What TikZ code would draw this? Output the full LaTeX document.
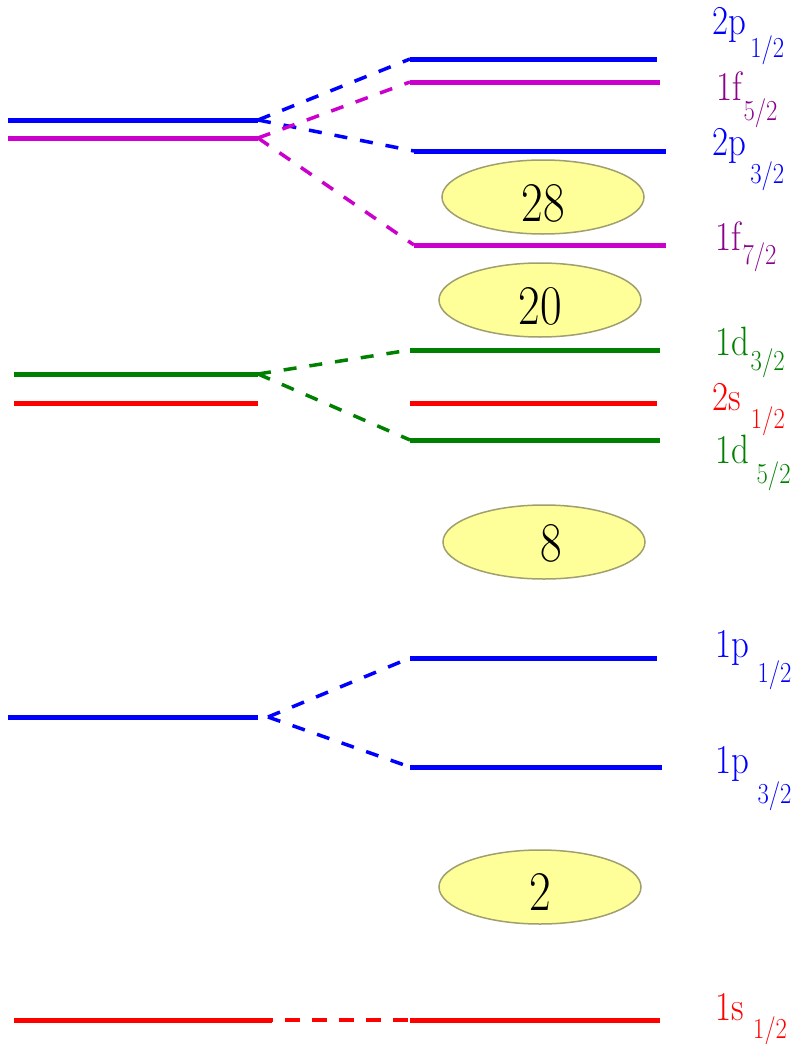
\documentclass[tikz,border=0pt]{standalone}
\usetikzlibrary{shapes.geometric}
\definecolor{cblue}{RGB}{0,0,255}
\definecolor{cmag}{RGB}{204,0,204}
\definecolor{cpurp}{RGB}{140,0,140}
\definecolor{cgreen}{RGB}{0,128,0}
\definecolor{cred}{RGB}{255,0,0}
\definecolor{cfill}{RGB}{255,255,153}
\definecolor{cedge}{RGB}{160,160,110}
\newcommand\lvlab[4]{\scalebox{0.85}[1]{\rmfamily\fontsize{41}{41}\selectfont #1\hspace{#4pt}\raisebox{-#3pt}{\fontsize{29}{29}\selectfont #2}}}
\newcommand\magic[1]{\scalebox{0.84}[1]{\rmfamily\fontsize{56}{56}\selectfont #1}}
\tikzset{
  level/.style={line width=5pt},
  split/.style={line width=3.5pt, dash pattern=on 13pt off 13pt},
  lab/.style={anchor=base west, inner sep=0pt},
  shell/.style={ellipse, draw=cedge, line width=1.5pt, fill=cfill, minimum width=202pt, minimum height=74pt, inner sep=0pt, text height=48pt, text depth=0pt}
}
\begin{document}
\begin{tikzpicture}[x=1pt,y=-1pt]
\useasboundingbox (0,0) rectangle (794,1044);
% left levels
\coordinate (a1) at (8,120);   \coordinate (a2) at (258,120);
\coordinate (b1) at (8,138);   \coordinate (b2) at (258,138);
\coordinate (c1) at (14,374);  \coordinate (c2) at (258,374);
\coordinate (d1) at (14,403);  \coordinate (d2) at (258,403);
\coordinate (e1) at (8,717);   \coordinate (e2) at (258,717);
\coordinate (e3) at (268,717);
\coordinate (f1) at (14,1020); \coordinate (f2) at (272,1020);
% right levels
\coordinate (r1a) at (410,59);   \coordinate (r1b) at (657,59);
\coordinate (r2a) at (410,82);   \coordinate (r2b) at (660,82);
\coordinate (r3a) at (414,151);  \coordinate (r3b) at (666,151);
\coordinate (r4a) at (414,245);  \coordinate (r4b) at (666,245);
\coordinate (r5a) at (410,350);  \coordinate (r5b) at (660,350);
\coordinate (r6a) at (410,403);  \coordinate (r6b) at (657,403);
\coordinate (r7a) at (410,440);  \coordinate (r7b) at (660,440);
\coordinate (r8a) at (410,658);  \coordinate (r8b) at (657,658);
\coordinate (r9a) at (410,767);  \coordinate (r9b) at (662,767);
\coordinate (r10a) at (410,1020); \coordinate (r10b) at (660,1020);

\draw[level,cblue] (a1) -- (a2);
\draw[level,cmag] (b1) -- (b2);
\draw[level,cgreen] (c1) -- (c2);
\draw[level,cred] (d1) -- (d2);
\draw[level,cblue] (e1) -- (e2);
\draw[level,cred] (f1) -- (f2);

\draw[level,cblue] (r1a) -- (r1b);
\draw[level,cmag] (r2a) -- (r2b);
\draw[level,cblue] (r3a) -- (r3b);
\draw[level,cmag] (r4a) -- (r4b);
\draw[level,cgreen] (r5a) -- (r5b);
\draw[level,cred] (r6a) -- (r6b);
\draw[level,cgreen] (r7a) -- (r7b);
\draw[level,cblue] (r8a) -- (r8b);
\draw[level,cblue] (r9a) -- (r9b);
\draw[level,cred] (r10a) -- (r10b);

% splittings
\draw[split,cblue] (a2) -- (r1a);
\draw[split,cblue] (a2) -- (r3a);
\draw[split,cmag] (b2) -- (r2a);
\draw[split,cmag] (b2) -- (r4a);
\draw[split,cgreen] (c2) -- (r5a);
\draw[split,cgreen] (c2) -- (r7a);
\draw[split,cblue] (e3) -- (r8a);
\draw[split,cblue] (e3) -- (r9a);
\draw[split,cred,dash pattern=on 15pt off 12pt, dash phase=-13pt] (f2) -- (r10a);

% magic numbers
\node[shell] (m28) at (543,197) {\magic{28}};
\node[shell] (m20) at (540,300) {\magic{20}};
\node[shell, text height=38pt] (m8) at (544,542) {\magic{\hspace*{18pt}8}};
\node[shell, text height=46pt] (m2) at (540,887) {\magic{2}};

% labels
\node[lab,cblue] (l1) at (712,34) {\lvlab{2p}{1/2}{24}{5}};
\node[lab,cpurp] (l2) at (716,100) {\lvlab{1f}{5/2}{20}{2}};
\node[lab,cblue] (l3) at (712,155) {\lvlab{2p}{3/2}{28}{5}};
\node[lab,cpurp] (l4) at (715,250) {\lvlab{1f}{7/2}{14}{2}};
\node[lab,cgreen] (l5) at (715,355) {\lvlab{1d}{3/2}{15}{2}};
\node[lab,cred] (l6) at (712,410) {\lvlab{2s}{1/2}{18}{12}};
\node[lab,cgreen] (l7) at (715,463) {\lvlab{1d}{5/2}{20}{9}};
\node[lab,cblue] (l8) at (715,657) {\lvlab{1p}{1/2}{25}{10}};
\node[lab,cblue] (l9) at (715,773) {\lvlab{1p}{3/2}{30}{10}};
\node[lab,cred] (l10) at (715,1020) {\lvlab{1s}{1/2}{18}{11}};
\end{tikzpicture}
\end{document}
